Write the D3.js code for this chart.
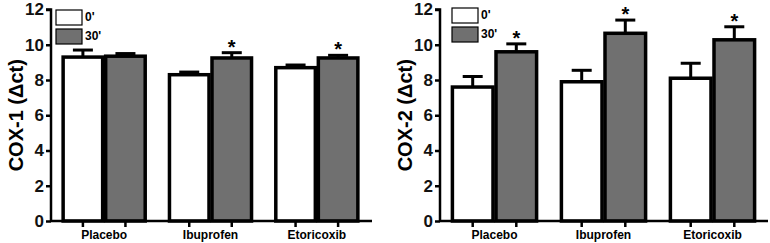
<!DOCTYPE html>
<html>
<head>
<meta charset="utf-8">
<script src="https://cdn.jsdelivr.net/npm/d3@7"></script>
<style>
  body { margin: 0; background: #fff; }
  svg text { font-family: "Liberation Sans", Arial, sans-serif; font-weight: bold; }
</style>
</head>
<body>
<div id="chart"></div>
<script>
'use strict';

var groups = ['Placebo', 'Ibuprofen', 'Etoricoxib'];
var times = ["0'", "30'"];
var yTicks = [0, 2, 4, 6, 8, 10, 12];

// COX-1 means and upper error (mean + SEM)
var cox1Mean0 = [9.3, 8.3, 8.7];
var cox1Err0 = [9.7, 8.45, 8.85];
var cox1Mean30 = [9.35, 9.25, 9.25];
var cox1Err30 = [9.5, 9.55, 9.4];
var cox1Star = [false, true, true];

// COX-2
var cox2Mean0 = [7.6, 7.9, 8.1];
var cox2Err0 = [8.2, 8.55, 8.95];
var cox2Mean30 = [9.6, 10.65, 10.28];
var cox2Err30 = [10.05, 11.4, 11.02];
var cox2Star = [true, true, true];

var fills = ['#ffffff', '#707070'];

var svg = d3.select('#chart').append('svg')
	.attr('width', 770)
	.attr('height', 243);

function drawPanel(opts){
	var g = svg.append('g');

	var y = d3.scaleLinear().domain([0, 12]).range([221, 9.5]);
	var x0 = d3.scaleBand().domain(groups)
		.range([opts.left, opts.right])
		.paddingInner(0.2)
		.paddingOuter(0.1);
	var x1 = d3.scaleBand().domain(times).range([0, x0.bandwidth()]);

	var rows = groups.map(function(name, i){
		return {
			name: name,
			bars: [
				{ t: times[0], v: opts.mean0[i], e: opts.err0[i], star: false },
				{ t: times[1], v: opts.mean30[i], e: opts.err30[i], star: opts.star[i] }
			]
		};
	});

	var grp = g.selectAll('g.grp').data(rows).enter().append('g')
		.attr('class', 'grp')
		.attr('transform', function(d){ return 'translate(' + x0(d.name) + ',0)'; });

	var bar = grp.selectAll('g.bar').data(function(d){ return d.bars; }).enter().append('g')
		.attr('class', 'bar');

	// error bars (upper only), drawn first so the bar edge covers the base
	bar.append('line')
		.attr('x1', function(d){ return x1(d.t) + x1.bandwidth() / 2; })
		.attr('x2', function(d){ return x1(d.t) + x1.bandwidth() / 2; })
		.attr('y1', function(d){ return y(d.v); })
		.attr('y2', function(d){ return y(d.e); })
		.attr('stroke', '#000').attr('stroke-width', 3);
	bar.append('line')
		.attr('x1', function(d){ return x1(d.t) + x1.bandwidth() / 2 - 10; })
		.attr('x2', function(d){ return x1(d.t) + x1.bandwidth() / 2 + 10; })
		.attr('y1', function(d){ return y(d.e); })
		.attr('y2', function(d){ return y(d.e); })
		.attr('stroke', '#000').attr('stroke-width', 3);

	bar.append('rect')
		.attr('x', function(d){ return x1(d.t) + 1.5; })
		.attr('y', function(d){ return y(d.v); })
		.attr('width', x1.bandwidth() - 3)
		.attr('height', function(d){ return y(0) - y(d.v); })
		.attr('fill', function(d, i){ return fills[i]; })
		.attr('stroke', '#000')
		.attr('stroke-width', 3.5);

	bar.filter(function(d){ return d.star; }).append('text')
		.attr('x', function(d){ return x1(d.t) + x1.bandwidth() / 2; })
		.attr('y', function(d){ return y(d.e) + 1; })
		.attr('text-anchor', 'middle')
		.style('font-size', '20px')
		.text('*');

	// axes
	var yAxis = g.append('g')
		.attr('transform', 'translate(' + opts.left + ',0)')
		.call(d3.axisLeft(y).tickValues(yTicks).tickSize(5).tickPadding(2).tickFormat(d3.format('d')));
	yAxis.select('.domain').attr('stroke-width', 2.5).attr('d', 'M-5,' + y(12) + 'H0V' + y(0));
	yAxis.selectAll('.tick line').attr('stroke-width', 2.5);
	yAxis.selectAll('.tick text').style('font-size', '17px').attr('fill', '#111');

	var xAxis = g.append('g')
		.attr('transform', 'translate(0,' + y(0) + ')');
	xAxis.append('line')
		.attr('x1', opts.left).attr('x2', opts.axisEnd)
		.attr('stroke', '#000').attr('stroke-width', 2.5);
	var ticks = [];
	groups.forEach(function(gn){
		times.forEach(function(t){ ticks.push(x0(gn) + x1(t) + x1.bandwidth() / 2); });
	});
	xAxis.selectAll('line.tk').data(ticks).enter().append('line')
		.attr('class', 'tk')
		.attr('x1', function(d){ return d; }).attr('x2', function(d){ return d; })
		.attr('y1', 0).attr('y2', 6)
		.attr('stroke', '#000').attr('stroke-width', 2.5);
	xAxis.selectAll('text').data(groups).enter().append('text')
		.attr('x', function(d){ return x0(d) + x0.bandwidth() / 2; })
		.attr('y', 18)
		.attr('text-anchor', 'middle')
		.style('font-size', '12px')
		.text(function(d){ return d; });

	// y label
	g.append('text')
		.attr('transform', 'translate(' + (opts.left - 28) + ',' + y(6) + ') rotate(-90)')
		.attr('text-anchor', 'middle')
		.style('font-size', '20px')
		.text(opts.label);

	// legend
	var lg = g.append('g').attr('transform', 'translate(' + opts.legX + ',' + opts.legY + ')');
	times.forEach(function(t, i){
		lg.append('rect')
			.attr('x', 0).attr('y', i * 19)
			.attr('width', 26).attr('height', 15)
			.attr('fill', fills[i])
			.attr('stroke', '#000').attr('stroke-width', 1.2);
		lg.append('text')
			.attr('x', 29).attr('y', i * 19 + 11)
			.style('font-size', '12px')
			.text(t);
	});
}

drawPanel({ left: 51, right: 370, axisEnd: 372, label: 'COX-1 (\u0394ct)',
	mean0: cox1Mean0, err0: cox1Err0, mean30: cox1Mean30, err30: cox1Err30, star: cox1Star,
	legX: 56, legY: 10 });
drawPanel({ left: 440, right: 767, axisEnd: 768, label: 'COX-2 (\u0394ct)',
	mean0: cox2Mean0, err0: cox2Err0, mean30: cox2Mean30, err30: cox2Err30, star: cox2Star,
	legX: 452, legY: 8 });
</script>
</body>
</html>
